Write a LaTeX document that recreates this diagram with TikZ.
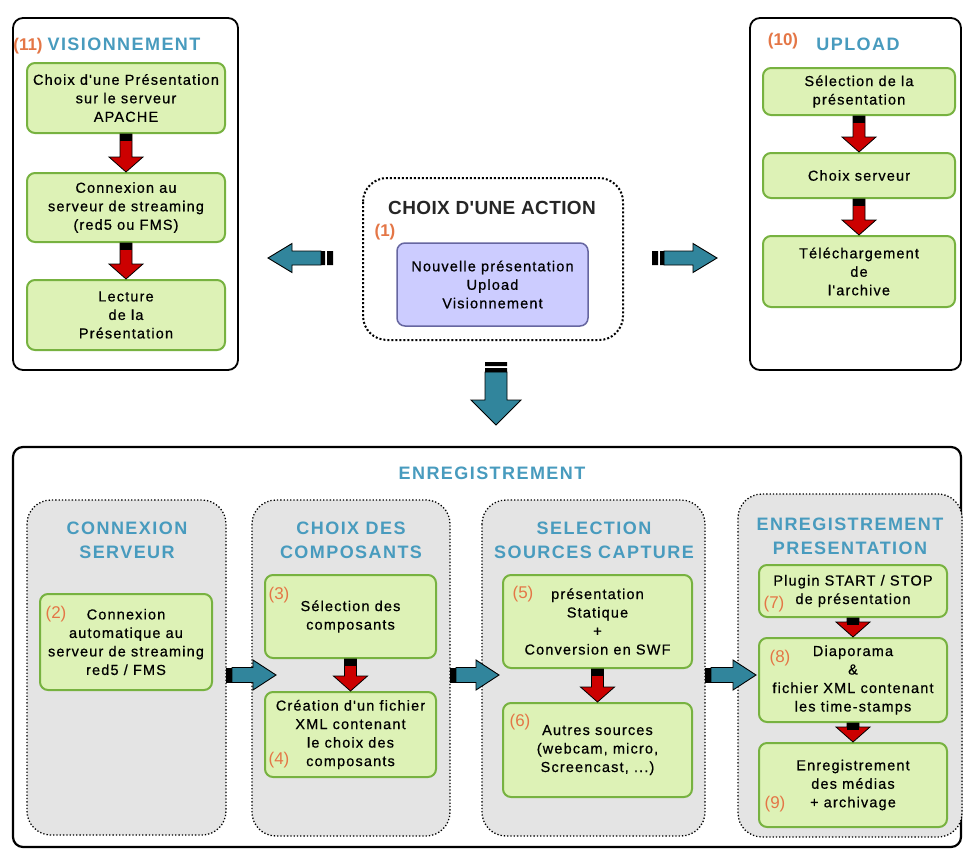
\documentclass[tikz,border=0pt]{standalone}
\usepackage{fontspec}
\setmainfont{Liberation Sans}
\newfontfamily\boxfont{Liberation Sans}[LetterSpace=8,FakeBold=0.6]
\newfontfamily\ttlfont{Liberation Sans}[LetterSpace=8]
\newfontfamily\actfont{Liberation Sans}[LetterSpace=2]
\usetikzlibrary{calc}
\definecolor{gfill}{RGB}{221,242,182}
\definecolor{gdraw}{RGB}{119,178,64}
\definecolor{pfill}{RGB}{204,204,255}
\definecolor{pdraw}{RGB}{102,102,160}
\definecolor{lfill}{RGB}{228,228,228}
\definecolor{ttl}{RGB}{72,155,190}
\definecolor{num}{RGB}{228,118,70}
\definecolor{tealc}{RGB}{49,133,156}
\definecolor{redc}{RGB}{204,0,0}
\tikzset{
  gbox/.style={draw=gdraw, fill=gfill, line width=2pt, rounded corners=8pt, align=center,
    font=\boxfont\fontsize{14.5}{18.5}\selectfont, inner sep=0pt},
  pbox/.style={draw=pdraw, fill=pfill, line width=1.5pt, rounded corners=8pt, align=center,
    font=\boxfont\fontsize{14.5}{18.5}\selectfont, inner sep=0pt},
  outerbox/.style={draw=black, line width=1.8pt, rounded corners=10pt, fill=white},
  lane/.style={draw=black, fill=lfill, dotted, line width=1.3pt, rounded corners=24pt},
  bigttl/.style={text=ttl, font=\ttlfont\fontsize{18}{20}\selectfont\bfseries},
  lanettl/.style={text=ttl, font=\ttlfont\fontsize{18}{24}\selectfont\bfseries, align=center},
  numlbl/.style={text=num, font=\fontsize{17}{18}\selectfont},
  numbold/.style={text=num, font=\fontsize{17}{18}\selectfont\bfseries},
}
\newcommand{\redarr}[2]{%
  \filldraw[fill=redc, draw=black, line width=0.8pt] let \p1=(#1), \p2=(#2) in
    (\x1-6pt,\y1) -- (\x1+6pt,\y1) -- (\x1+6pt,\y2+15pt) -- (\x1+17pt,\y2+15pt) -- (\x1,\y2)
    -- (\x1-17pt,\y2+15pt) -- (\x1-6pt,\y2+15pt) -- cycle;
  \fill[black] let \p1=(#1) in (\x1-6pt,\y1) rectangle (\x1+6pt,\y1-7pt);
}
\newcommand{\tealR}[2]{%
  \filldraw[fill=tealc, draw=black, line width=0.9pt] let \p1=(#1), \p2=(#2) in
    (\x1+6pt,\y1+7.5pt) -- (\x2-23pt,\y1+7.5pt) -- (\x2-23pt,\y1+15pt) -- (\x2,\y1)
    -- (\x2-23pt,\y1-15pt) -- (\x2-23pt,\y1-7.5pt) -- (\x1+6pt,\y1-7.5pt) -- cycle;
  \fill[black] let \p1=(#1) in (\x1,\y1-7.5pt) rectangle (\x1+6pt,\y1+7.5pt);
}
\begin{document}
\begin{tikzpicture}[x=1pt,y=-1pt]
\useasboundingbox (0,0) rectangle (963,849);
\fill[white] (0,0) rectangle (963,849);

% ---------- VISIONNEMENT ----------
\draw[outerbox] (13,18) rectangle (238,370);
\node[numbold] (n11) at (28,46) {(11)};
\node[bigttl] (tv) at (124,44) {VISIONNEMENT};
\node[gbox, minimum width=198pt, minimum height=70pt] (v1) at (126,98)
  {Choix d'une Présentation\\sur le serveur\\APACHE};
\node[gbox, minimum width=198pt, minimum height=69pt] (v2) at (126,207.5)
  {Connexion au\\serveur de streaming\\(red5 ou FMS)};
\node[gbox, minimum width=198pt, minimum height=70pt] (v3) at (126,315)
  {Lecture\\de la\\Présentation};
\redarr{v1.south}{v2.north}
\redarr{v2.south}{v3.north}

% ---------- UPLOAD ----------
\draw[outerbox] (750,18) rectangle (961,370);
\node[numbold] (n10) at (783,41) {(10)};
\node[bigttl] (tu) at (858,44) {UPLOAD};
\node[gbox, minimum width=192pt, minimum height=47pt] (u1) at (859,91.5)
  {Sélection de la\\présentation};
\node[gbox, minimum width=192pt, minimum height=45pt] (u2) at (859,175.5)
  {Choix serveur};
\node[gbox, minimum width=192pt, minimum height=71pt] (u3) at (859,271.5)
  {Téléchargement\\de\\l'archive};
\redarr{u1.south}{u2.north}
\redarr{u2.south}{u3.north}

% ---------- CHOIX D'UNE ACTION ----------
\draw[black, dotted, line width=2pt, rounded corners=24pt] (363,178) rectangle (623,340);
\node[text=black!85, font=\actfont\fontsize{19}{20}\selectfont\bfseries] (tc) at (492,208) {CHOIX D'UNE ACTION};
\node[numbold] (n1) at (385,232) {(1)};
\node[pbox, minimum width=191pt, minimum height=83pt] (act) at (492.5,284.5)
  {Nouvelle présentation\\Upload\\Visionnement};

% left arrow
\coordinate (la) at (333,258);
\coordinate (lb) at (268,258);
\filldraw[fill=tealc, draw=black, line width=0.9pt] let \p1=(la), \p2=(lb) in
  (\x1-12pt,\y1+7pt) -- (\x2+24pt,\y1+7pt) -- (\x2+24pt,\y1+14.5pt) -- (\x2,\y1)
  -- (\x2+24pt,\y1-14.5pt) -- (\x2+24pt,\y1-7pt) -- (\x1-12pt,\y1-7pt) -- cycle;
\fill[black] let \p1=(la) in (\x1-12pt,\y1-7pt) rectangle (\x1-8pt,\y1+7pt)
  (\x1-6pt,\y1-7pt) rectangle (\x1,\y1+7pt);
% right arrow
\coordinate (ra) at (652,258);
\coordinate (rb) at (717,258);
\filldraw[fill=tealc, draw=black, line width=0.9pt] let \p1=(ra), \p2=(rb) in
  (\x1+12pt,\y1+7pt) -- (\x2-24pt,\y1+7pt) -- (\x2-24pt,\y1+14.5pt) -- (\x2,\y1)
  -- (\x2-24pt,\y1-14.5pt) -- (\x2-24pt,\y1-7pt) -- (\x1+12pt,\y1-7pt) -- cycle;
\fill[black] let \p1=(ra) in (\x1,\y1-7pt) rectangle (\x1+6pt,\y1+7pt)
  (\x1+8pt,\y1-7pt) rectangle (\x1+12pt,\y1+7pt);
% down arrow
\coordinate (da) at (496,362);
\coordinate (db) at (496,425);
\filldraw[fill=tealc, draw=black, line width=0.9pt] let \p1=(da), \p2=(db) in
  (\x1-11pt,\y1-10pt) -- (\x1-11pt,\y2+25pt) -- (\x1-25pt,\y2+25pt) -- (\x2,\y2)
  -- (\x1+25pt,\y2+25pt) -- (\x1+11pt,\y2+25pt) -- (\x1+11pt,\y1-10pt) -- cycle;
\fill[black] let \p1=(da) in (\x1-11pt,\y1) rectangle (\x1+11pt,\y1-4pt)
  (\x1-11pt,\y1-6pt) rectangle (\x1+11pt,\y1-10pt);

% ---------- ENREGISTREMENT ----------
\draw[outerbox, line width=2.2pt] (13,447) rectangle (961,847);
\node[bigttl] (te) at (492,473) {ENREGISTREMENT};

\draw[lane] (27,500) rectangle (226,835);
\draw[lane] (252,500) rectangle (450,836);
\draw[lane] (482,500) rectangle (705,836);
\draw[lane] (738,494) rectangle (962,837);
\node[lanettl] (t1) at (127,540) {CONNEXION\\SERVEUR};
\node[lanettl] (t2) at (351,540) {CHOIX DES\\COMPOSANTS};
\node[lanettl] (t3) at (594,540) {SELECTION\\SOURCES CAPTURE};
\node[lanettl] (t4) at (850,536) {ENREGISTREMENT\\PRESENTATION};

\node[gbox, minimum width=172pt, minimum height=96pt] (b2) at (126,642)
  {Connexion\\automatique au\\serveur de streaming\\red5 / FMS};
\node[numlbl] at (56,614) {(2)};

\node[gbox, minimum width=171pt, minimum height=83pt] (b3) at (350.5,616.5)
  {Sélection des\\composants};
\node[numlbl] at (279,595) {(3)};
\node[gbox, minimum width=171pt, minimum height=85pt] (b4) at (350.5,734.5)
  {Création d'un fichier\\XML contenant\\le choix des\\composants};
\node[numlbl] at (279,760) {(4)};
\redarr{b3.south}{b4.north}

\node[gbox, minimum width=189pt, minimum height=93pt] (b5) at (597.5,621.5)
  {présentation\\Statique\\+\\Conversion en SWF};
\node[numlbl] at (523,594) {(5)};
\node[gbox, minimum width=189pt, minimum height=94pt] (b6) at (597.5,750)
  {Autres sources\\(webcam, micro,\\Screencast, ...)};
\node[numlbl] at (520,722) {(6)};
\redarr{b5.south}{b6.north}

\node[gbox, minimum width=188pt, minimum height=52pt] (b7) at (853,591)
  {Plugin START / STOP\\de présentation};
\node[numlbl] at (774,604) {(7)};
\node[gbox, minimum width=188pt, minimum height=84pt] (b8) at (853,680)
  {Diaporama\\\&\\fichier XML contenant\\les time-stamps};
\node[numlbl] at (780,658) {(8)};
\node[gbox, minimum width=188pt, minimum height=84pt] (b9) at (853,785)
  {Enregistrement\\des médias\\+ archivage};
\node[numlbl] at (775,804) {(9)};
\redarr{b7.south}{b8.north}
\redarr{b8.south}{b9.north}

% lane arrows
\coordinate (a1) at (226,675);
\coordinate (a1e) at (276,675);
\coordinate (a2) at (450,675);
\coordinate (a2e) at (499,675);
\coordinate (a3) at (705,675);
\coordinate (a3e) at (756,675);
\tealR{a1}{a1e}
\tealR{a2}{a2e}
\tealR{a3}{a3e}
\end{tikzpicture}
\end{document}
